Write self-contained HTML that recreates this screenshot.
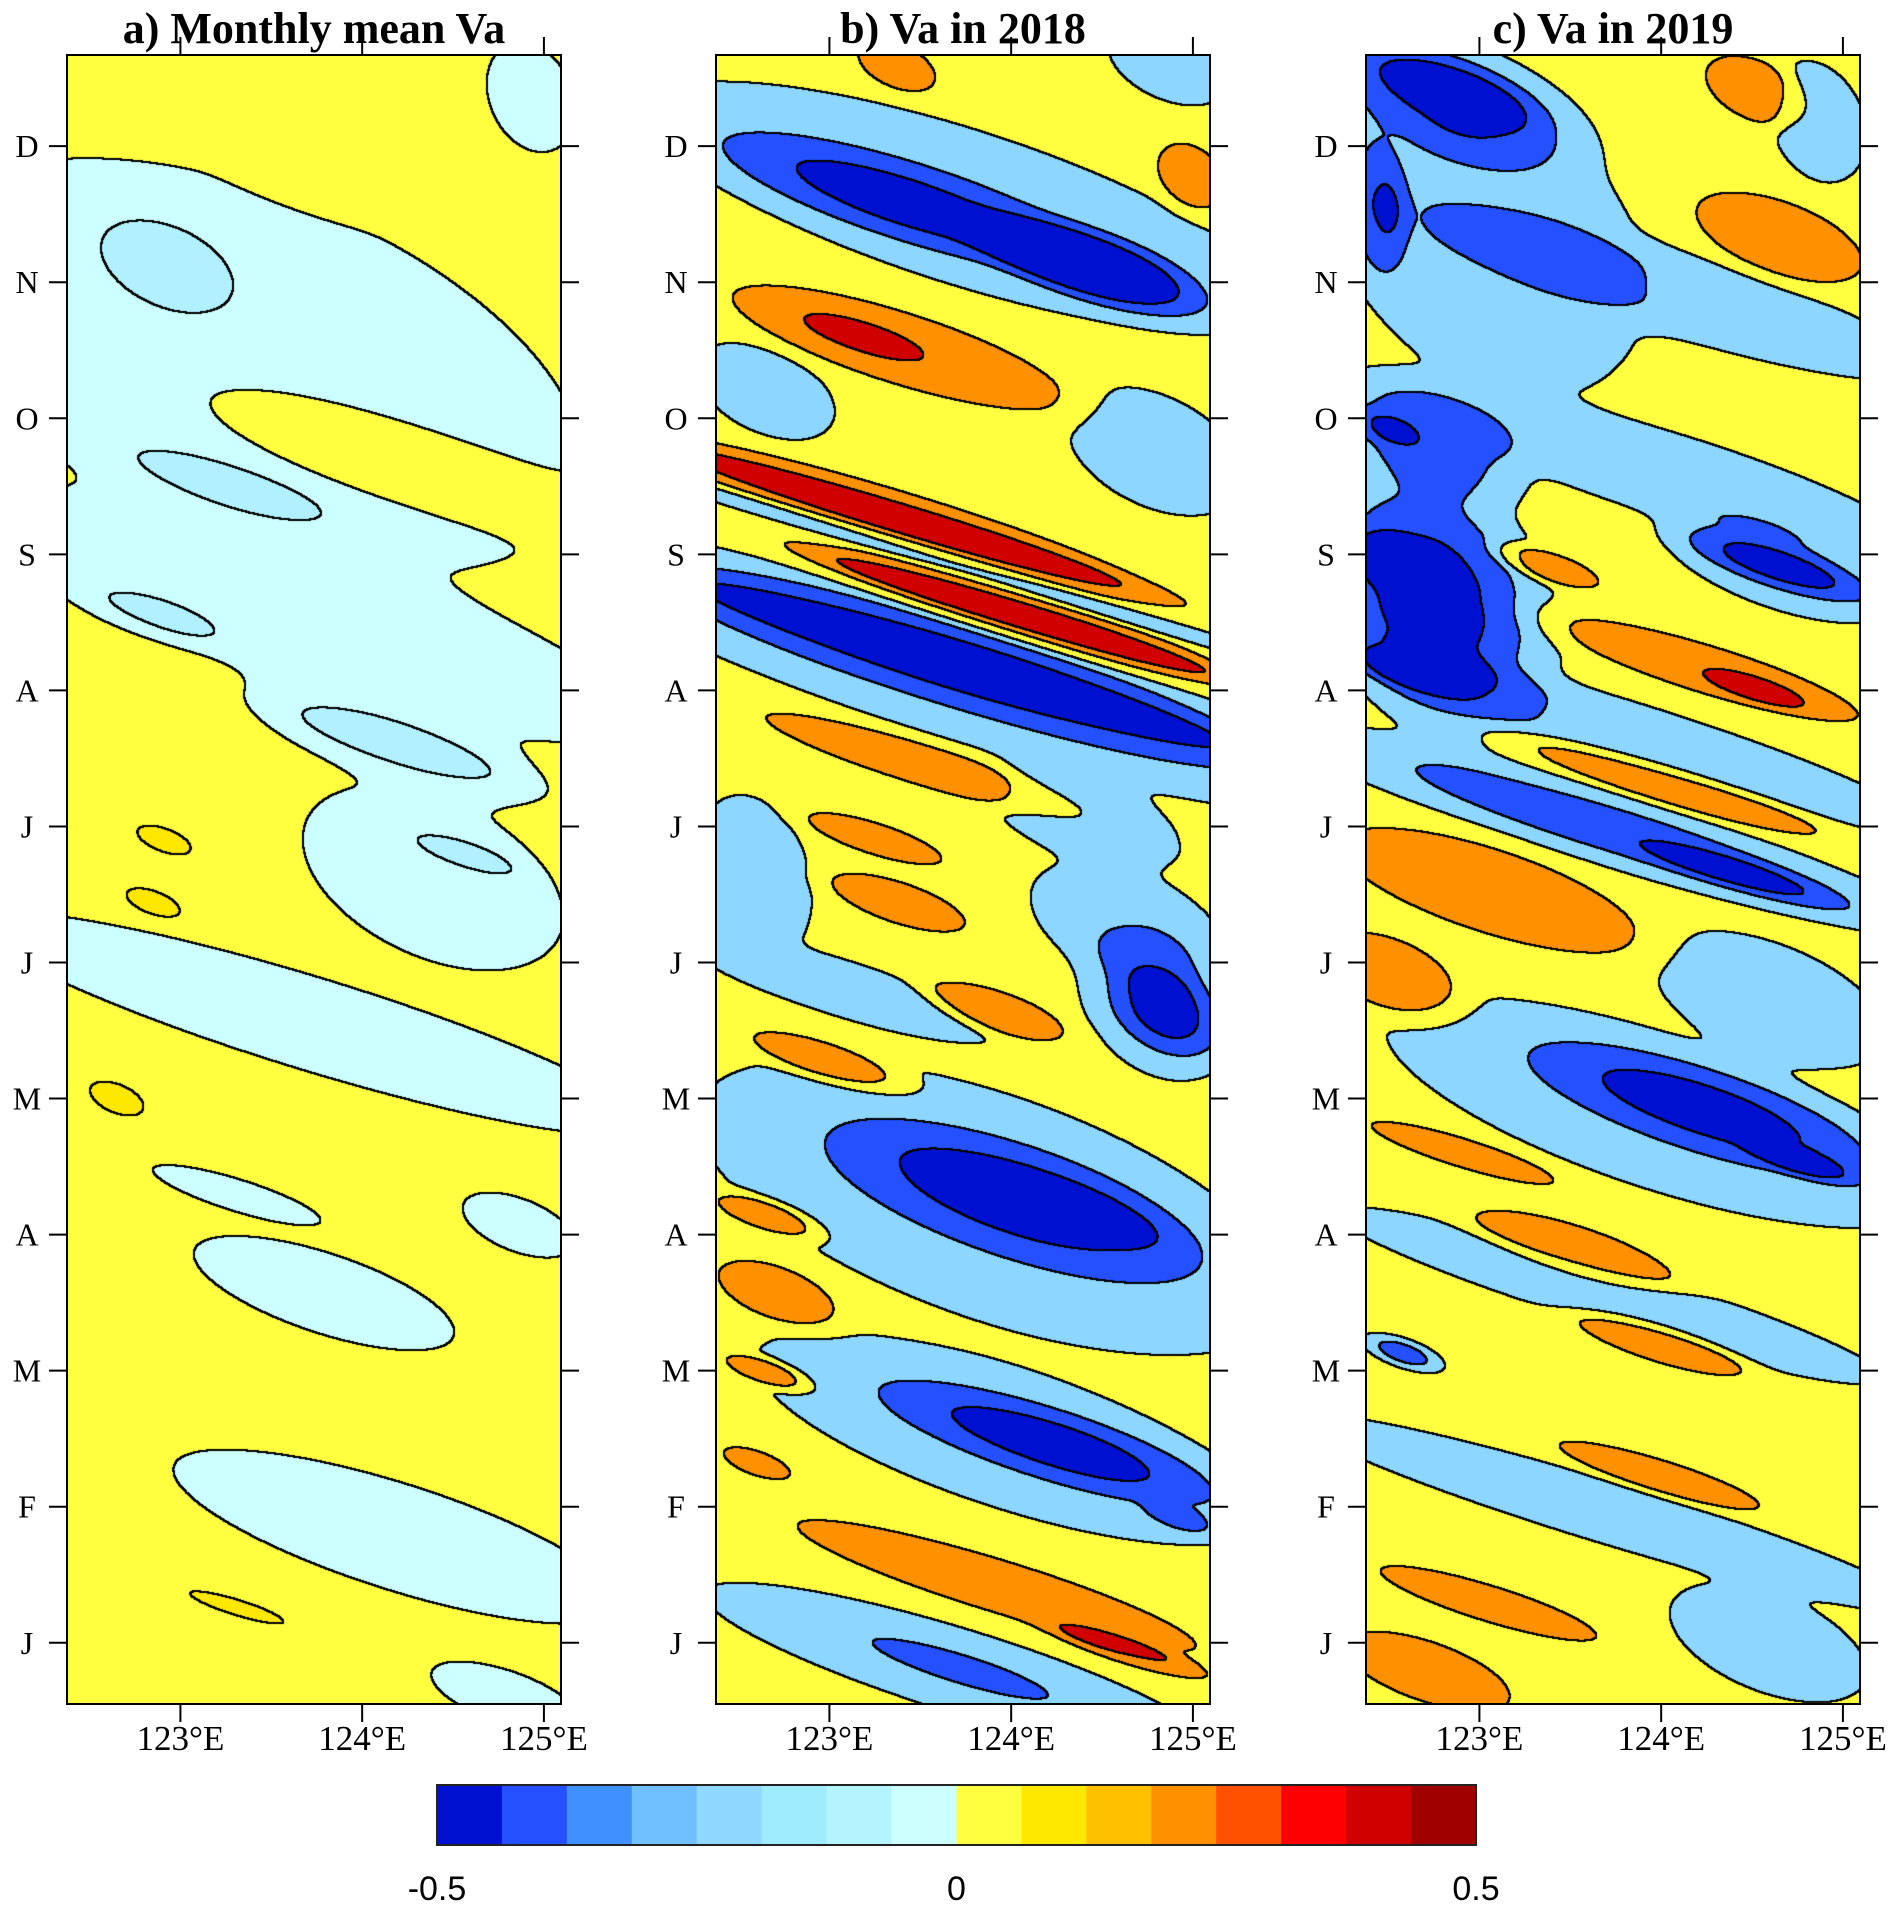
<!DOCTYPE html>
<html><head><meta charset="utf-8"><style>
body{margin:0;background:#fff;}
#root{position:relative;width:1890px;height:1909px;overflow:hidden;background:#fff;}
canvas{position:absolute;}
svg{position:absolute;left:0;top:0;}
</style></head><body>
<div id="root">
<canvas id="ca" width="494" height="1649" style="left:67px;top:55px"></canvas>
<canvas id="cb" width="494" height="1649" style="left:716px;top:55px"></canvas>
<canvas id="cc" width="494" height="1649" style="left:1366px;top:55px"></canvas>
<svg id="ov" width="1890" height="1909"></svg>
</div>
<script>
// ---- data (lon, month index, amplitude, half-length deg, half-width months) ----
const months=["J","F","M","A","M","J","J","A","S","O","N","D"];
const lonTicks=[123,124,125];
const cbTicks=["-0.5","0","0.5"];
const cbColors=["#0010d0","#2450ff","#4090ff","#70c0ff","#90d8ff","#a0ecff","#b4f4ff","#ccffff","#ffff40","#ffe800","#ffc000","#ff9000","#ff5000","#ff0000","#d00000","#a00000"];
const titles=["a) Monthly mean Va","b) Va in 2018","c) Va in 2019"];

const aLon=[124.93,123.38,124.05,122.91,123.25,123.72,123.72,122.85,124.19,124.19,122.91,122.85,124.39,124.59,123.72,122.65,123.31,123.79,124.86,124.19,124.79,123.31];
const aMon=[12.36,10.39,9.76,11.15,9.49,11.74,8.51,8.55,7.61,7.61,6.9,6.44,6.62,6.79,5.55,5.0,4.29,3.57,4.07,1.78,0.6,1.26];
const aAmp=[-0.05,-0.06,0.06,-0.05,-0.05,0.05,-0.06,-0.05,-0.06,-0.05,0.08,0.08,-0.06,-0.05,-0.06,0.08,-0.06,-0.06,-0.06,-0.06,-0.06,0.08];
const aLen=[0.25,1.8,1.1,0.4,0.7,0.5,1.8,0.4,0.8,0.6,0.2,0.2,0.7,0.3,1.8,0.2,0.45,0.7,0.3,1.2,0.4,0.35];
const aWid=[0.4,1.3,0.35,0.35,0.2,0.2,0.5,0.15,0.3,0.15,0.12,0.12,0.6,0.1,0.35,0.15,0.12,0.3,0.2,0.4,0.2,0.08];

const bLon=[123.37,124.86,123.72,123.38,124.46,124.99,123.38,123.18,122.65,124.79,123.38,123.38,124.05,124.05,123.7,123.72,123.72,123.72,123.52,123.25,123.38,124.39,124.65,124.86,124.8,122.58,123.92,122.98,123.05,124.05,124.19,123.9,122.65,122.71,122.65,122.6,124.26,124.0,124.93,123.92,124.65,123.72,123.72];
const bMon=[12.59,12.6,11.56,11.6,11.1,11.78,10.52,10.6,10.2,9.76,9.27,9.27,8.55,8.55,8.92,8.19,8.19,8.1,7.45,6.91,6.44,7.07,6.26,5.64,5.7,6.62,5.64,5.28,5.82,4.25,4.25,4.2,4.14,3.57,2.99,2.32,2.45,2.5,1.91,1.42,0.93,0.79,0.81];
const bAmp=[0.25,-0.2,-0.2,-0.3,-0.45,0.3,0.3,0.25,-0.2,-0.2,0.3,0.3,0.3,0.3,-0.2,-0.3,-0.25,-0.2,0.3,0.3,0.3,-0.2,-0.2,-0.3,-0.2,-0.2,0.3,0.3,-0.2,-0.3,-0.2,-0.2,0.3,0.3,0.3,0.3,-0.3,-0.2,-0.2,0.3,0.3,-0.2,-0.2];
const bLen=[0.25,0.3,1.6,1.0,0.6,0.2,1.0,0.3,0.35,0.45,1.6,1.3,1.3,1.1,2.0,1.8,1.5,2.0,0.95,0.4,0.4,0.5,0.5,0.3,0.4,0.3,0.4,0.45,0.8,1.0,0.6,1.5,0.3,0.35,0.25,0.2,0.9,1.3,0.2,1.2,0.45,1.3,0.45];
const bWid=[0.2,0.25,0.55,0.28,0.25,0.25,0.3,0.1,0.3,0.4,0.22,0.1,0.2,0.09,0.08,0.3,0.13,0.45,0.17,0.13,0.17,0.3,0.4,0.3,0.5,0.55,0.17,0.15,0.2,0.4,0.18,0.8,0.12,0.22,0.1,0.1,0.25,0.5,0.1,0.22,0.1,0.3,0.1];

const cLon=[122.85,122.8,123.05,122.45,124.52,124.86,124.65,124.05,122.51,122.71,124.05,122.71,122.51,122.58,122.8,124.65,124.65,123.38,124.26,124.52,123.72,123.72,124.39,124.05,123.05,122.51,124.59,124.26,124.79,124.0,122.91,123.52,123.72,122.58,123.99,123.72,123.99,123.05,122.71,124.59];
const cMon=[12.41,12.36,11.29,11.56,12.41,12.18,11.33,10.93,9.92,9.85,9.58,8.69,8.96,8.15,8.6,8.91,8.91,8.91,8.15,8.01,7.7,6.98,6.67,7.3,6.53,5.91,5.73,4.92,4.52,4.9,4.6,3.89,3.55,3.13,3.2,1.95,2.23,1.29,0.79,1.0];
const cAmp=[-0.2,-0.35,-0.2,-0.3,0.3,-0.2,0.3,-0.2,-0.2,-0.3,-0.2,-0.3,-0.2,-0.2,-0.2,-0.3,-0.2,0.3,0.3,0.3,-0.2,-0.3,-0.25,0.3,0.3,0.3,-0.2,-0.3,-0.25,-0.2,0.3,0.3,-0.2,-0.3,0.32,-0.2,0.3,0.3,0.3,-0.2];
const cLen=[0.45,0.7,0.8,0.15,0.3,0.25,0.5,1.3,0.2,0.5,1.3,0.5,0.25,0.3,0.6,0.5,0.6,0.3,0.9,0.25,1.6,1.6,0.6,0.9,0.9,0.4,0.6,0.9,0.3,1.4,0.55,0.6,1.4,0.2,0.5,1.6,0.6,0.65,0.5,0.5];
const cWid=[0.2,0.4,1.0,0.5,0.25,0.4,0.3,0.3,0.12,0.4,0.3,0.75,0.2,0.12,0.9,0.15,0.3,0.12,0.2,0.08,0.25,0.25,0.12,0.15,0.35,0.3,0.4,0.3,0.1,0.55,0.12,0.2,0.22,0.1,0.15,0.22,0.13,0.15,0.25,0.35];

// ---- axes ----
const L0=122.376, L1=125.094, T0=12.67, T1=0.55, PW=494, PH=1649, TOP=55;
const lefts=[67,716,1366];
function xOf(lon){return (lon-L0)/(L1-L0)*PW;}
function yOf(t){return (T0-t)/(T0-T1)*PH;}

function level(panel,v){
  if(panel===0){ if(v<-0.06)return 0; if(v<0)return 1; if(v<0.08)return 2; return 3; }
  if(v<-0.4)return 0; if(v<-0.2)return 1; if(v<0)return 2; if(v<0.2)return 3; if(v<0.4)return 4; return 5;
}
const palA=[[176,240,255],[204,255,255],[255,255,64],[255,232,0]];
const palB=[[0,16,208],[36,80,255],[140,214,255],[255,255,64],[255,144,0],[208,0,0]];

function drawPanel(id,panel,lo,mo,am,le,wi,base){
  const cv=document.getElementById(id), ctx=cv.getContext('2d');
  const img=ctx.createImageData(PW,PH), d=img.data;
  const lev=new Uint8Array(PW*PH), s=0.4, n=lo.length;
  const pal=panel===0?palA:palB;
  for(let py=0;py<PH;py++){
    const t=T0-(py+0.5)/PH*(T0-T1);
    for(let px=0;px<PW;px++){
      const lon=L0+(px+0.5)/PW*(L1-L0);
      let v=base;
      for(let k=0;k<n;k++){
        const u=(lon-lo[k])/le[k]; if(u>2.2||u<-2.2)continue;
        const w=((t-mo[k])+s*(lon-lo[k]))/wi[k]; if(w>2.2||w<-2.2)continue;
        const r2=u*u+w*w; v+=am[k]*Math.exp(-r2*r2);
      }
      lev[py*PW+px]=level(panel,v);
    }
  }
  for(let py=0;py<PH;py++)for(let px=0;px<PW;px++){
    const i=py*PW+px, l=lev[i];
    let edge=false;
    for(let dy=-1;dy<=1&&!edge;dy++)for(let dx=-1;dx<=1;dx++){
      const qx=px+dx,qy=py+dy;
      if(qx<0||qy<0||qx>=PW||qy>=PH)continue;
      if(lev[qy*PW+qx]!==l){edge=true;break;}
    }
    const c=edge?[0,0,0]:pal[l];
    d[i*4]=c[0];d[i*4+1]=c[1];d[i*4+2]=c[2];d[i*4+3]=255;
  }
  ctx.putImageData(img,0,0);
}
drawPanel('ca',0,aLon,aMon,aAmp,aLen,aWid,0.02);
drawPanel('cb',1,bLon,bMon,bAmp,bLen,bWid,0.05);
drawPanel('cc',2,cLon,cMon,cAmp,cLen,cWid,0.05);

const NS='http://www.w3.org/2000/svg', ov=document.getElementById('ov');
function el(tag,attrs,txt){const e=document.createElementNS(NS,tag);for(const k in attrs)e.setAttribute(k,attrs[k]);if(txt!==undefined)e.textContent=txt;ov.appendChild(e);return e;}
lefts.forEach((lx,p)=>{
  const f=el('rect',{x:lx,y:TOP,width:PW,height:PH,fill:'none',stroke:'#000','stroke-width':2});
  
  
  const tt=el('text',{x:lx+PW/2,y:43,'text-anchor':'middle','font-family':'Liberation Serif, serif','font-weight':'bold','font-size':44},titles[p]);
  
  
  months.forEach((m,i)=>{
    const y=TOP+yOf(i+1);
    const tk=el('line',{x1:lx-18,x2:lx,y1:y,y2:y,stroke:'#000','stroke-width':2});
    
    
    const tr=el('line',{x1:lx+PW,x2:lx+PW+18,y1:y,y2:y,stroke:'#000','stroke-width':2});
    
    
    const lb=el('text',{x:lx-40,y:y+11,'text-anchor':'middle','font-family':'Liberation Serif, serif','font-size':32},m);
    
    
  });
  lonTicks.forEach(lon=>{
    const x=lx+xOf(lon);
    const tb=el('line',{x1:x,x2:x,y1:TOP+PH,y2:TOP+PH+18,stroke:'#000','stroke-width':2});
    
    
    const tp=el('line',{x1:x,x2:x,y1:TOP-18,y2:TOP,stroke:'#000','stroke-width':2});
    
    
    const lb=el('text',{x:x,y:1750,'text-anchor':'middle','font-family':'Liberation Serif, serif','font-size':35},lon+'°E');
    
    
  });
});
// colorbar
const cbX=437, cbW=1039, cbY=1785, cbH=60, cw=cbW/cbColors.length;
cbColors.forEach((c,i)=>{
  const r=el('rect',{x:cbX+i*cw,y:cbY,width:cw+0.5,height:cbH,fill:c});
  
  
});
const cbf=el('rect',{x:cbX,y:cbY,width:cbW,height:cbH,fill:'none',stroke:'#222','stroke-width':2});


cbTicks.forEach((t,i)=>{
  const lb=el('text',{x:cbX+i*cbW/2,y:1900,'text-anchor':'middle','font-family':'Liberation Sans, sans-serif','font-size':34},t);
  
  
});
</script>
</body></html>
